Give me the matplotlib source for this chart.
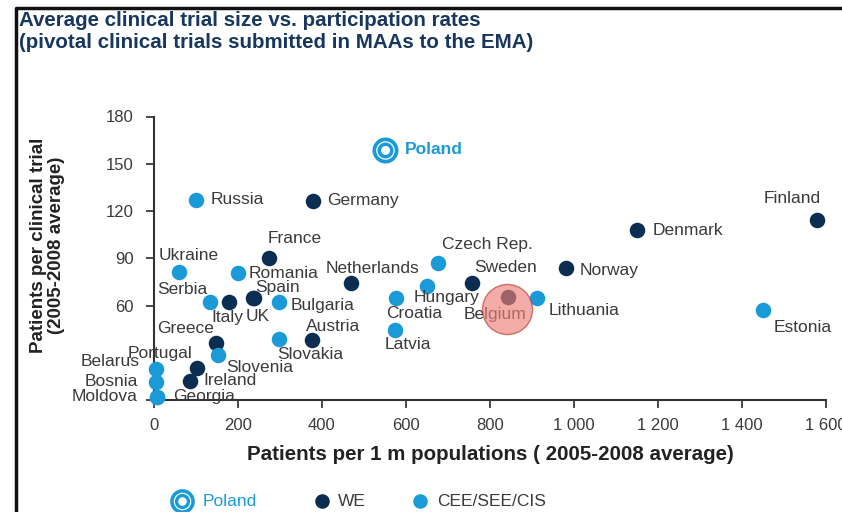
import matplotlib.pyplot as plt
from matplotlib.lines import Line2D

plt.rcParams['font.family'] = ['Liberation Sans', 'DejaVu Sans']

# data
countries = ['Russia', 'Germany', 'Poland', 'France', 'Ukraine', 'Romania', 'Netherlands',
             'Czech Rep.', 'Sweden', 'Norway', 'Denmark', 'Finland', 'Serbia', 'Italy',
             'UK', 'Spain', 'Bulgaria', 'Croatia', 'Hungary', 'Belgium', 'Lithuania',
             'Latvia', 'Estonia', 'Greece', 'Slovenia', 'Slovakia', 'Austria', 'Portugal',
             'Ireland', 'Belarus', 'Bosnia', 'Moldova', 'Georgia']
patients_per_m = [100, 379, 550, 274, 60, 201, 470,
                  677, 756, 982, 1151, 1578, 133, 178,
                  236, 238, 298, 575, 649, 844, 911,
                  574, 1449, 148, 153, 298, 375, 103,
                  86, 5, 5, 6, 8]
patients_per_trial = [127, 126.5, 159, 90, 81.5, 80.5, 74,
                      87, 74.5, 83.5, 108, 114, 62, 62,
                      64.5, 65, 62, 64.5, 72.5, 65.5, 65,
                      44.5, 57, 36.5, 28.5, 38.5, 38, 20.5,
                      12, 20, 11.5, 2, 2]
groups = ['CEE', 'WE', 'PL', 'WE', 'CEE', 'CEE', 'WE',
          'CEE', 'WE', 'WE', 'WE', 'WE', 'CEE', 'WE',
          'WE', 'WE', 'CEE', 'CEE', 'CEE', 'WE', 'CEE',
          'CEE', 'CEE', 'WE', 'CEE', 'CEE', 'WE', 'WE',
          'WE', 'CEE', 'CEE', 'CEE', 'CEE']
x_ticks = [0, 200, 400, 600, 800, 1000, 1200, 1400, 1600]
x_tick_labels = ['0', '200', '400', '600', '800', '1 000', '1 200', '1 400', '1 600']
y_ticks = [0, 60, 90, 120, 150, 180]
y_tick_labels = ['', '60', '90', '120', '150', '180']
legend_labels = ['Poland', 'WE', 'CEE/SEE/CIS']
highlight = 'Belgium'

# label placement (offset in pixels from the dot, alignment)
label_pos = {
    'Russia': (15, 0, 'left'), 'Germany': (14, 0, 'left'), 'Poland': (20, 0, 'left'),
    'France': (26, 20, 'center'), 'Ukraine': (9, 16, 'center'), 'Romania': (10, 0, 'left'),
    'Netherlands': (21, 15, 'center'), 'Czech Rep.': (49, 18, 'center'),
    'Sweden': (34, 15, 'center'), 'Norway': (13, -2, 'left'), 'Denmark': (15, -1, 'left'),
    'Finland': (-25, 22, 'center'), 'Serbia': (-28, 13, 'center'), 'Italy': (-1, -15, 'center'),
    'UK': (5, -18, 'center'), 'Spain': (24, 10, 'center'), 'Bulgaria': (11, -3, 'left'),
    'Croatia': (19, -15, 'center'), 'Hungary': (20, -12, 'center'),
    'Belgium': (-13, -18, 'center'), 'Lithuania': (12, -13, 'left'),
    'Latvia': (13, -15, 'center'), 'Estonia': (40, -17, 'center'),
    'Greece': (-31, 14, 'center'), 'Austria': (22, 14, 'center'),
    'Slovakia': (31, -15, 'center'), 'Slovenia': (41, -12, 'center'),
    'Portugal': (-37, 14, 'center'), 'Ireland': (13, 1, 'left'),
    'Belarus': (-16, 7, 'right'), 'Bosnia': (-18, 0, 'right'),
    'Moldova': (-19, 0, 'right'), 'Georgia': (16, 0, 'left'),
}

navy = '#0b2d52'
light = '#1a9bd7'
grey = '#3a3a3a'
colors = {'WE': navy, 'CEE': light}
label_size = 12.5


def poland_ring(ax, x, y, scale=1.0, **kw):
    """concentric discs: blue, white, blue, white"""
    for d, c, z in [(26, light, 4), (18.5, 'white', 4.1), (16, light, 4.2), (9, 'white', 4.3)]:
        ax.scatter(x, y, s=(d * scale * 0.72) ** 2, color=c, linewidth=0, zorder=z,
                   clip_on=False, **kw)


fig = plt.figure(figsize=(8.42, 5.12), dpi=100)
ax = fig.add_axes([154 / 842, 112 / 512, 672 / 842, 283.5 / 512])

for name, xv, yv, g in zip(countries, patients_per_m, patients_per_trial, groups):
    dx, dy, ha = label_pos[name]
    if g == 'PL':
        poland_ring(ax, xv, yv)
        ax.annotate(name, (xv, yv), xytext=(dx, dy), textcoords='offset pixels',
                    ha=ha, va='center', fontsize=12.5, color=light, fontweight='bold')
    else:
        ax.scatter(xv, yv, s=125, color=colors[g], linewidth=0, zorder=3, clip_on=False)
        ax.annotate(name, (xv, yv), xytext=(dx, dy), textcoords='offset pixels',
                    ha=ha, va='center', fontsize=label_size, color=grey)

# highlight circle over Belgium
i = countries.index(highlight)
ax.scatter(patients_per_m[i] - 4, patients_per_trial[i] - 8, s=1300, facecolor='#ee8078',
           edgecolor='#b83a30', linewidth=1, alpha=0.65, zorder=6)

ax.set_xlim(0, 1600)
ax.set_ylim(0, 180)
ax.set_xticks(x_ticks)
ax.set_xticklabels(x_tick_labels)
ax.set_yticks(y_ticks)
ax.set_yticklabels(y_tick_labels)
ax.tick_params(colors=grey, labelsize=12, length=5.8, width=1.3, direction='out')
ax.tick_params(axis='y', pad=9)
ax.tick_params(axis='x', pad=7)
for side in ['top', 'right']:
    ax.spines[side].set_visible(False)
for side in ['left', 'bottom']:
    ax.spines[side].set_color('#333333')
    ax.spines[side].set_linewidth(1.5)

ax.set_xlabel('Patients per 1 m populations ( 2005-2008 average)', fontsize=14.8,
              fontweight='bold', color='#222222', va='center')
ax.xaxis.set_label_coords(0.5, -0.194)
ax.set_ylabel('Patients per clinical trial\n(2005-2008 average)', fontsize=13.5,
              fontweight='bold', color='#222222', va='center', linespacing=1.1)
ax.yaxis.set_label_coords(-0.158, 0.547)

fig.text(19 / 842, 1 - 26 / 512, 'Average clinical trial size vs. participation rates',
         fontsize=14.8, fontweight='bold', color='#17375e', va='baseline')
fig.text(19 / 842, 1 - 48 / 512, '(pivotal clinical trials submitted in MAAs to the EMA)',
         fontsize=14.8, fontweight='bold', color='#17375e', va='baseline')

# legend row under the x label
leg_y = (400 - 501) / 283.5
leg_marker_x = [(182 - 154) / 672, (322 - 154) / 672, (420 - 154) / 672]
leg_text_x = [(203 - 154) / 672, (338 - 154) / 672, (437 - 154) / 672]
poland_ring(ax, leg_marker_x[0], leg_y, scale=0.95, transform=ax.transAxes)
ax.scatter(leg_marker_x[1], leg_y, s=110, color=navy, linewidth=0, clip_on=False,
           transform=ax.transAxes)
ax.scatter(leg_marker_x[2], leg_y, s=110, color=light, linewidth=0, clip_on=False,
           transform=ax.transAxes)
for lx, lab, c in zip(leg_text_x, legend_labels, [light, grey, grey]):
    ax.text(lx, leg_y, lab, transform=ax.transAxes, fontsize=12.5, color=c,
            ha='left', va='center')

# frame border
fig.add_artist(Line2D([16 / 842, 16 / 842, 1], [0, 1 - 8 / 512, 1 - 8 / 512],
                      transform=fig.transFigure, color='#111111', linewidth=2.5))

fig.savefig('out.png', dpi=100)
